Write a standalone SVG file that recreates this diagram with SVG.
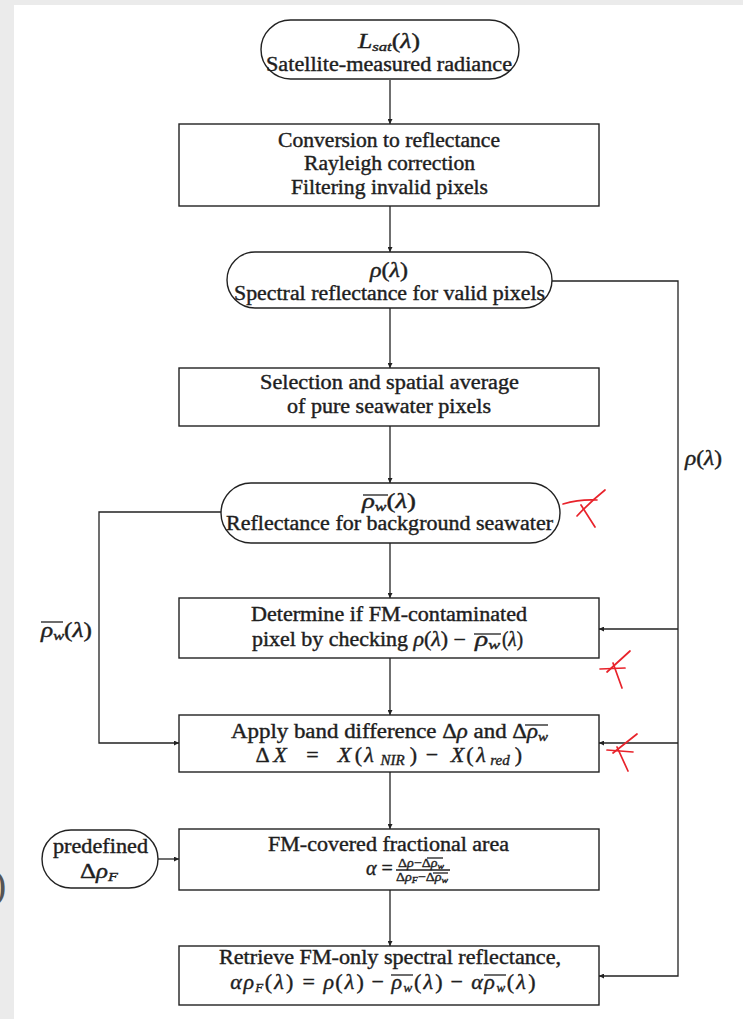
<svg xmlns="http://www.w3.org/2000/svg" width="743" height="1019" viewBox="0 0 743 1019">
<defs>
<style>
.t{font-family:"Liberation Serif","DejaVu Serif",serif;font-size:20px;fill:#1e1e1e;stroke:#1e1e1e;stroke-width:0.4}
.m{font-size:22px}
.i{font-style:italic}
.s{font-size:13px}
.xs{font-size:13px}
.nd{fill:#fff;stroke:#222;stroke-width:1.4}
.ln{fill:none;stroke:#222;stroke-width:1.3}
.ov{stroke:#1e1e1e;stroke-width:1.3}
.red{fill:none;stroke:#e8232b;stroke-width:1.7;stroke-linecap:round}
</style>
<marker id="arr" viewBox="0 0 6 6" refX="6" refY="3" markerWidth="5" markerHeight="5" markerUnits="userSpaceOnUse" orient="auto">
<path d="M0,0 L6,3 L0,6 z" fill="#222"/>
</marker>
</defs>
<rect x="0" y="0" width="743" height="1019" fill="#ebebeb"/>
<rect x="14" y="5" width="729" height="1014" fill="#fff"/>
<text class="t" x="-7" y="898" style="font-size:40px;fill:#555;stroke:none">)</text>

<g id="connectors">
<path class="ln" d="M390,80 V124" marker-end="url(#arr)"/>
<path class="ln" d="M390,206 V252" marker-end="url(#arr)"/>
<path class="ln" d="M390,308 V368" marker-end="url(#arr)"/>
<path class="ln" d="M390,426 V483" marker-end="url(#arr)"/>
<path class="ln" d="M390,543 V598" marker-end="url(#arr)"/>
<path class="ln" d="M390,658 V715" marker-end="url(#arr)"/>
<path class="ln" d="M390,772 V829" marker-end="url(#arr)"/>
<path class="ln" d="M390,890 V946" marker-end="url(#arr)"/>
<path class="ln" d="M552,281 H678 V976 H599" marker-end="url(#arr)"/>
<path class="ln" d="M678,629 H599" marker-end="url(#arr)"/>
<path class="ln" d="M678,743 H599" marker-end="url(#arr)"/>
<path class="ln" d="M222,512 H99 V743 H179" marker-end="url(#arr)"/>
<path class="ln" d="M158,859 H179" marker-end="url(#arr)"/>
<text class="t" x="685" y="465" textLength="37" lengthAdjust="spacingAndGlyphs"><tspan class="i">ρ</tspan>(<tspan class="i">λ</tspan>)</text>
<text class="t" x="41" y="637" textLength="51" lengthAdjust="spacingAndGlyphs"><tspan class="i">ρ</tspan><tspan class="s i" dy="3">w</tspan><tspan dy="-3">(</tspan><tspan class="i">λ</tspan>)</text>
<line class="ov" x1="41" y1="622" x2="63" y2="622"/>
</g>

<g id="n1">
<rect class="nd" x="261" y="20" width="258" height="59" rx="29.5"/>
<text class="t" x="358" y="48" textLength="62" lengthAdjust="spacingAndGlyphs"><tspan class="i">L</tspan><tspan class="s i" dy="3">sat</tspan><tspan dy="-3">(</tspan><tspan class="i">λ</tspan>)</text>
<text class="t" x="266" y="71" textLength="246" lengthAdjust="spacingAndGlyphs">Satellite-measured radiance</text>
</g>

<g id="n2">
<rect class="nd" x="179" y="124" width="420" height="82"/>
<text class="t" x="278" y="147" textLength="222" lengthAdjust="spacingAndGlyphs">Conversion to reflectance</text>
<text class="t" x="304" y="170" textLength="171" lengthAdjust="spacingAndGlyphs">Rayleigh correction</text>
<text class="t" x="291" y="194" textLength="197" lengthAdjust="spacingAndGlyphs">Filtering invalid pixels</text>
</g>

<g id="n3">
<rect class="nd" x="227" y="252" width="325" height="56" rx="28"/>
<text class="t" x="370" y="277" textLength="38" lengthAdjust="spacingAndGlyphs"><tspan class="i">ρ</tspan>(<tspan class="i">λ</tspan>)</text>
<text class="t" x="234" y="300" textLength="311" lengthAdjust="spacingAndGlyphs">Spectral reflectance for valid pixels</text>
</g>

<g id="n4">
<rect class="nd" x="179" y="368" width="420" height="58"/>
<text class="t" x="260" y="389" textLength="259" lengthAdjust="spacingAndGlyphs">Selection and spatial average</text>
<text class="t" x="287" y="413" textLength="204" lengthAdjust="spacingAndGlyphs">of pure seawater pixels</text>
</g>

<g id="n5">
<rect class="nd" x="221" y="483" width="339" height="60" rx="30"/>
<text class="t" x="362" y="508" textLength="54" lengthAdjust="spacingAndGlyphs"><tspan class="i">ρ</tspan><tspan class="s i" dy="3">w</tspan><tspan dy="-3">(</tspan><tspan class="i">λ</tspan>)</text>
<line class="ov" x1="363" y1="495" x2="388" y2="495"/>
<text class="t" x="226" y="530" textLength="327" lengthAdjust="spacingAndGlyphs">Reflectance for background seawater</text>
</g>

<g id="n6">
<rect class="nd" x="179" y="598" width="420" height="60"/>
<text class="t" x="251" y="621" textLength="276" lengthAdjust="spacingAndGlyphs">Determine if FM-contaminated</text>
<text class="t" x="252" y="646" textLength="214" lengthAdjust="spacingAndGlyphs">pixel by checking <tspan class="i">ρ</tspan>(<tspan class="i">λ</tspan>) −</text>
<text class="t" x="475" y="646" textLength="25" lengthAdjust="spacingAndGlyphs"><tspan class="i">ρ</tspan><tspan class="s i" dy="3">w</tspan></text>
<text class="t" x="502" y="646" textLength="21" lengthAdjust="spacingAndGlyphs">(<tspan class="i">λ</tspan>)</text>
<line class="ov" x1="474" y1="634" x2="501" y2="634"/>
</g>

<g id="n7">
<rect class="nd" x="179" y="715" width="420" height="57"/>
<text class="t" x="231" y="738" textLength="317" lengthAdjust="spacingAndGlyphs">Apply band difference Δ<tspan class="i">ρ</tspan> and Δ<tspan class="i">ρ</tspan><tspan class="s i" dy="3">w</tspan></text>
<line class="ov" x1="525" y1="725" x2="548" y2="725"/>
<text class="t m" y="762" text-anchor="middle"><tspan x="262.5">Δ</tspan><tspan class="i" x="280">X</tspan><tspan x="312.5">=</tspan><tspan class="i" x="344.5">X</tspan><tspan x="358.5">(</tspan><tspan class="i" x="369">λ</tspan><tspan class="i" x="392.5" dy="3" style="font-size:15px">NIR</tspan><tspan x="413.5" dy="-3">)</tspan><tspan x="432">−</tspan><tspan class="i" x="457.5">X</tspan><tspan x="470">(</tspan><tspan class="i" x="481">λ</tspan><tspan class="i" x="500" dy="3" style="font-size:15px">red</tspan><tspan x="518.5" dy="-3">)</tspan></text>
</g>

<g id="n8">
<rect class="nd" x="179" y="829" width="420" height="61"/>
<text class="t" x="268" y="851" textLength="241" lengthAdjust="spacingAndGlyphs">FM-covered fractional area</text>
<text class="t" x="366" y="875"><tspan class="i">α</tspan> =</text>
<text class="t xs" x="398" y="867" textLength="46" lengthAdjust="spacingAndGlyphs">Δ<tspan class="i">ρ</tspan>−Δ<tspan class="i">ρ</tspan><tspan class="i" dy="2" style="font-size:9px">w</tspan></text>
<line class="ov" x1="427" y1="858" x2="443" y2="858"/>
<line class="ov" x1="396" y1="870" x2="450" y2="870" style="stroke-width:1.5"/>
<text class="t xs" x="396" y="881" textLength="52" lengthAdjust="spacingAndGlyphs">Δ<tspan class="i">ρ</tspan><tspan class="i" dy="2" style="font-size:9px">F</tspan><tspan dy="-2">−Δ</tspan><tspan class="i">ρ</tspan><tspan class="i" dy="2" style="font-size:9px">w</tspan></text>
<line class="ov" x1="433" y1="873" x2="448" y2="873"/>
</g>

<g id="n9">
<rect class="nd" x="42" y="830" width="116" height="58" rx="29"/>
<text class="t" x="53" y="853" textLength="95" lengthAdjust="spacingAndGlyphs">predefined</text>
<text class="t" x="80" y="878" textLength="38" lengthAdjust="spacingAndGlyphs">Δ<tspan class="i">ρ</tspan><tspan class="s i" dy="3">F</tspan></text>
</g>

<g id="n10">
<rect class="nd" x="179" y="946" width="420" height="59"/>
<text class="t" x="219" y="964" textLength="342" lengthAdjust="spacingAndGlyphs">Retrieve FM-only spectral reflectance,</text>
<text class="t m" y="989" text-anchor="middle"><tspan class="i" x="236">α</tspan><tspan class="i" x="248.7">ρ</tspan><tspan class="s i" x="259.3" dy="3">F</tspan><tspan x="268.5" dy="-3">(</tspan><tspan class="i" x="279.1">λ</tspan><tspan x="289.7">)</tspan><tspan x="308.6">=</tspan><tspan class="i" x="328.9">ρ</tspan><tspan x="338.8">(</tspan><tspan class="i" x="349.4">λ</tspan><tspan x="360.1">)</tspan><tspan x="377.7">−</tspan><tspan class="i" x="396.8">ρ</tspan><tspan class="s i" x="407.9" dy="3">w</tspan><tspan x="417.6" dy="-3">(</tspan><tspan class="i" x="428.3">λ</tspan><tspan x="438.9">)</tspan><tspan x="456.6">−</tspan><tspan class="i" x="477">α</tspan><tspan class="i" x="489.6">ρ</tspan><tspan class="s i" x="500.8" dy="3">w</tspan><tspan x="510.5" dy="-3">(</tspan><tspan class="i" x="521.1">λ</tspan><tspan x="531.8">)</tspan></text>
<line class="ov" x1="391" y1="975" x2="413" y2="975"/>
<line class="ov" x1="484" y1="975" x2="506" y2="975"/>
</g>

<g id="marks">
<path class="red" d="M563,504 Q580,499 597,500"/>
<path class="red" d="M605,490 Q590,502 577,516"/>
<path class="red" d="M581,505 L595,527"/>
<path class="red" d="M630,651 L607,672"/>
<path class="red" d="M600,669 L625,668"/>
<path class="red" d="M613,663 L622,688"/>
<path class="red" d="M637,734 L613,753"/>
<path class="red" d="M607,750 L633,752"/>
<path class="red" d="M617,747 L628,771"/>
</g>
</svg>
